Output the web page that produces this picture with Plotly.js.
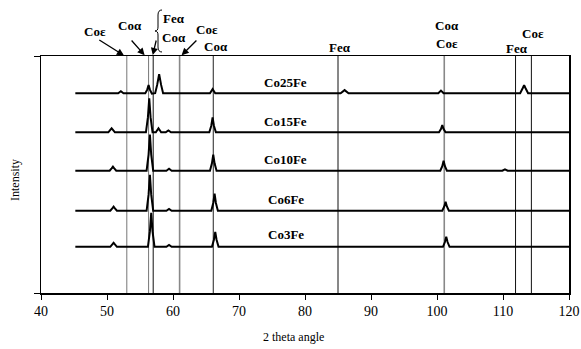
<!DOCTYPE html>
<html><head><meta charset="utf-8">
<script src="https://cdn.plot.ly/plotly-3.0.1.min.js"></script>
<style>html,body{margin:0;padding:0;background:#fff}#chart{width:581px;height:349px}</style>
</head><body><div id="chart"></div>
<script>
// 2 theta (deg) and offset intensity (a.u.) for each sample
const co3fe_x = [45.2,50.5,50.8,51.0,51.2,51.5,56.2,56.5,56.7,56.9,57.2,59.0,59.4,59.8,65.9,66.2,66.4,66.6,66.9,100.9,101.2,101.4,101.6,101.9,120];
const co3fe_y = [19.5,19.5,20.5,21.2,20.5,19.5,19.5,26.0,33.8,26.0,19.5,19.5,20.3,19.5,19.5,22.5,25.8,22.5,19.5,19.5,21.5,23.7,21.5,19.5,19.5];

const co6fe_x = [45.2,50.5,50.8,51.0,51.2,51.5,56.0,56.3,56.5,56.7,57.0,59.0,59.4,59.8,65.8,66.1,66.3,66.5,66.8,100.8,101.1,101.3,101.5,101.8,120];
const co6fe_y = [34.7,34.7,35.7,36.4,35.7,34.7,34.7,41.5,49.9,41.5,34.7,34.7,35.5,34.7,34.7,38.0,41.9,38.0,34.7,34.7,36.5,38.5,36.5,34.7,34.7];

const co10fe_x = [45.2,50.4,50.7,50.9,51.1,51.4,56.0,56.3,56.5,56.7,57.0,59.0,59.4,59.8,65.6,65.9,66.1,66.3,66.6,100.5,100.8,101.0,101.2,101.5,109.9,110.3,110.7,120];
const co10fe_y = [51.6,51.6,52.6,53.3,52.6,51.6,51.6,58.4,66.8,58.4,51.6,51.6,52.4,51.6,51.6,54.7,58.4,54.7,51.6,51.6,53.5,55.8,53.5,51.6,51.6,52.2,51.6,51.6];

const co15fe_x = [45.2,50.2,50.5,50.7,50.9,51.2,55.9,56.2,56.4,56.6,56.9,57.4,57.8,58.2,58.9,59.3,59.7,65.5,65.8,66.0,66.2,66.5,100.3,100.6,100.8,101.0,101.3,120];
const co15fe_y = [67.8,67.8,68.8,69.5,68.8,67.8,67.8,74.2,82.1,74.2,67.8,67.8,69.5,67.8,67.8,68.6,67.8,67.8,70.6,74.1,70.6,67.8,67.8,69.2,70.8,69.2,67.8,67.8];

const co25fe_x = [45.2,51.7,52.1,52.5,55.8,56.1,56.3,56.5,56.8,57.3,57.6,57.9,58.2,58.5,65.6,66.0,66.4,85.4,86.0,86.6,100.2,100.6,101.0,112.6,113.0,113.2,113.4,113.8,120];
const co25fe_y = [84.3,84.3,85.1,84.3,84.3,85.8,87.7,85.8,84.1,84.3,87.8,92.3,87.8,84.3,84.3,86.0,84.3,84.3,85.6,84.3,84.3,85.4,84.3,84.3,86.5,87.7,86.5,84.3,84.3];

const sampleNames = ["Co3Fe","Co6Fe","Co10Fe","Co15Fe","Co25Fe"];
const sampleX = [co3fe_x, co6fe_x, co10fe_x, co15fe_x, co25fe_x];
const sampleY = [co3fe_y, co6fe_y, co10fe_y, co15fe_y, co25fe_y];
const sampleLabelY = [24.5, 39.5, 56.5, 72.5, 88.8];

// reference peak positions (2 theta)
const refLines = [53.0, 56.3, 57.0, 61.0, 66.1, 85.0, 101.1, 111.9, 114.3];
const refColors = ["#777","#777","#111","#888","#222","#111","#888","#111","#111"];
const refWidths = [1, 1, 1, 1.6, 1, 1, 1.6, 1, 1];

const xTicks = [40,50,60,70,80,90,100,110,120];

const traces = sampleNames.map((n,i)=>({
  x: sampleX[i], y: sampleY[i], type:'scatter', mode:'lines', name:n,
  line:{color:'#000', width:2}, hoverinfo:'skip'
}));

const shapes = refLines.map((v,i)=>({
  type:'line', xref:'x', yref:'paper', x0:v, x1:v, y0:0, y1:1,
  line:{color:refColors[i], width:refWidths[i]}, layer:'below'
}));

const W=581, H=349;
const px = p => (p-41)/528;
const py = p => (293-p)/237;

// curly bracket as a path (page pixels -> paper)
const bp = (x,y)=>px(x).toFixed(4)+','+py(y).toFixed(4);
shapes.push({type:'path', xref:'paper', yref:'paper',
  path:'M'+bp(162,10)+' Q'+bp(158,10)+' '+bp(158,15)+' L'+bp(158,27)+' Q'+bp(158,31)+' '+bp(155,31)+
       ' Q'+bp(158,31)+' '+bp(158,35)+' L'+bp(158,47)+' Q'+bp(158,52)+' '+bp(162,52),
  line:{color:'#000', width:1}});

const bold = {family:'"Liberation Serif","Times New Roman",serif', size:13, color:'#000'};
const annotations = [];
sampleNames.forEach((n,i)=>annotations.push({
  x:77.1, y:sampleLabelY[i], xref:'x', yref:'y', text:'<b>'+n+'</b>', showarrow:false, font:bold
}));

// peak labels (page pixel positions)
function pl(text, x, y){
  annotations.push({xref:'paper', yref:'paper', x:px(x), y:py(y),
    text:'<b>'+text+'</b>', showarrow:false, font:bold, xanchor:'center', yanchor:'middle'});
}
pl('Coε',95,32); pl('Coα',130,25); pl('Feα',174,19); pl('Coα',174,37);
pl('Coε',207,29); pl('Coα',216,46); pl('Feα',340,47);
pl('Coα',447,25); pl('Coε',447,43); pl('Feα',517,49); pl('Coε',533,33);

// arrows: head at data x on top frame, tail offset in pixels
function arrow(xv, ax, ay){
  annotations.push({x:xv, y:1, xref:'x', yref:'paper', text:'', showarrow:true,
    arrowhead:2, arrowsize:1.1, arrowwidth:1.3, arrowcolor:'#000', ax:ax, ay:ay, standoff:1});
}
arrow(52.7,-27,-17); arrow(55.8,-15,-17); arrow(56.9,4,-17); arrow(61.2,17,-17);

// axis titles
annotations.push({xref:'paper', yref:'paper', x:px(293), y:py(337), text:'2 theta angle',
  showarrow:false, xanchor:'center', yanchor:'middle',
  font:{family:'"Liberation Serif",serif', size:12, color:'#000'}});
annotations.push({xref:'paper', yref:'paper', x:px(15), y:py(180), text:'Intensity',
  showarrow:false, textangle:-90, xanchor:'center', yanchor:'middle',
  font:{family:'"Liberation Serif",serif', size:12, color:'#000'}});

const layout = {
  width:W, height:H, margin:{l:41, r:12, t:56, b:56},
  paper_bgcolor:'#fff', plot_bgcolor:'#fff', showlegend:false,
  xaxis:{range:[40,120], tickvals:xTicks, ticktext:xTicks.map(String), ticks:'outside', ticklen:5,
    tickcolor:'#000', showline:true, linecolor:'#000', linewidth:1.5, mirror:true, showgrid:false, zeroline:false,
    tickfont:{family:'"Liberation Serif",serif', size:14, color:'#000'}},
  yaxis:{range:[0,100], tickvals:[0,100], ticks:'outside', ticklen:6, tickcolor:'#000',
    showticklabels:false, showline:true, linecolor:'#000', linewidth:1.5, mirror:true,
    showgrid:false, zeroline:false},
  shapes:shapes, annotations:annotations
};
Plotly.newPlot('chart', traces, layout, {displayModeBar:false, staticPlot:true});
</script></body></html>
